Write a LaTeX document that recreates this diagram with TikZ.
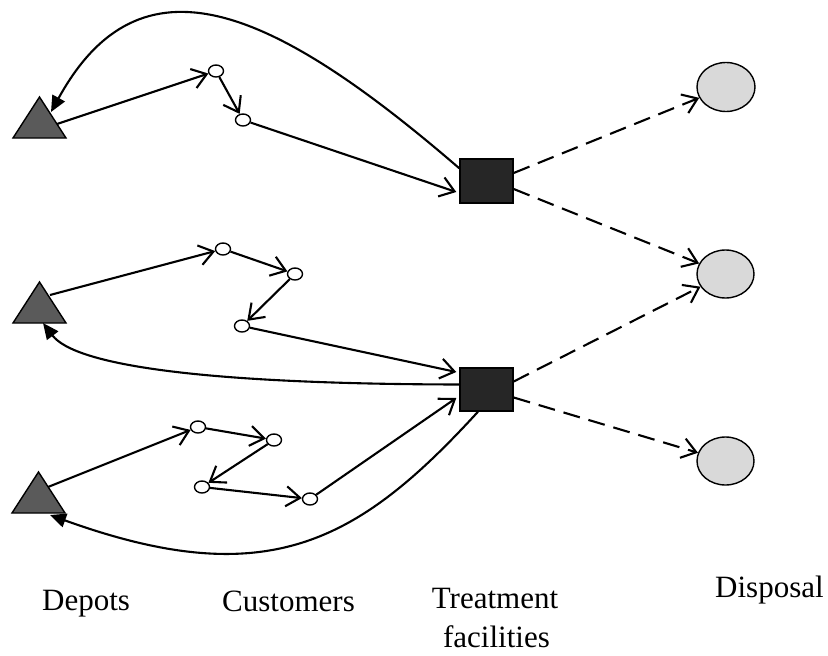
\documentclass[tikz,border=0pt]{standalone}
\usepackage{fontspec}
\setmainfont{Liberation Serif}
\usetikzlibrary{arrows.meta,shapes.geometric,calc}
\definecolor{trigray}{HTML}{5A5A5A}
\definecolor{sqgray}{HTML}{262626}
\definecolor{dispgray}{HTML}{D9D9D9}
\tikzset{
  cust/.style={draw, fill=white, ellipse, line width=1.4pt, minimum width=15pt, minimum height=12pt, inner sep=0pt},
  facility/.style={draw, fill=sqgray, line width=1.4pt, minimum width=53pt, minimum height=44pt, inner sep=0pt},
  disp/.style={draw, fill=dispgray, ellipse, line width=1.4pt, minimum width=58pt, minimum height=49pt, inner sep=0pt},
  tri/.style={draw, fill=trigray, line width=1.4pt, line join=miter},
  con/.style={line width=2.1pt, -{Straight Barb[length=14pt,width=20pt,line width=2.1pt]}},
  ret/.style={line width=2.1pt, -{Triangle[length=16pt,width=14pt]}},
  dsh/.style={line width=2.1pt, dash pattern=on 17pt off 9pt, -{Straight Barb[length=14pt,width=20pt,line width=2.1pt]}},
  lbl/.style={font=\fontsize{31}{39}\selectfont, inner sep=0pt}
}
\begin{document}
\begin{tikzpicture}[x=1pt,y=-1pt]
\useasboundingbox (0,0) rectangle (828,656);
% depots
\draw[tri] (13,138) -- (39.5,97) -- (66,138) -- cycle;
\draw[tri] (13,323) -- (39.5,282) -- (66,323) -- cycle;
\draw[tri] (12,513) -- (38.5,472) -- (65,513) -- cycle;
\coordinate (t1r) at (57,124);
\coordinate (t1a) at (51,112);
\coordinate (t2r) at (50,295);
\coordinate (t2b) at (43,323);
\coordinate (t3r) at (48,487);
\coordinate (t3b) at (50,515);
% customers
\node[cust] (c1a) at (216,71) {};
\node[cust] (c1b) at (243,120) {};
\node[cust] (c2a) at (223,249) {};
\node[cust] (c2b) at (295,274) {};
\node[cust] (c2c) at (242,326) {};
\node[cust] (c3a) at (198,427) {};
\node[cust] (c3b) at (274,440) {};
\node[cust] (c3c) at (202,487) {};
\node[cust] (c3d) at (310,499) {};
% treatment facilities
\node[facility] (sq1) at (486.5,181) {};
\node[facility, minimum height=43pt] (sq2) at (486.5,389.5) {};
% disposal
\node[disp] (d1) at (726,87) {};
\node[disp, minimum width=57pt, minimum height=48pt] (d2) at (725.5,274) {};
\node[disp, minimum width=57pt, minimum height=48pt] (d3) at (725.5,461) {};
% top route
\draw[con] (t1r) -- (c1a);
\draw[con] (c1a) -- (c1b);
\draw[con] (c1b) -- ($(sq1.west)+(-3,11)$);
\draw[ret] ($(sq1.north west)+(0,10)$) .. controls (270,5) and (140,-50) .. (t1a);
% middle route
\draw[con] (t2r) -- (c2a);
\draw[con] (c2a) -- (c2b);
\draw[con] (c2b) -- (c2c);
\draw[con] (c2c) -- ($(sq2.west)+(-3,-17.5)$);
\draw[ret] ($(sq2.west)+(0,-5)$) .. controls (200,384) and (75,365) .. (t2b);
% bottom route
\draw[con] (t3r) -- (c3a);
\draw[con] (c3a) -- (c3b);
\draw[con] (c3b) -- (c3c);
\draw[con] (c3c) -- (c3d);
\draw[con] (c3d) -- ($(sq2.west)+(-3,8.5)$);
\draw[ret] ($(sq2.south)+(-8.5,0)$) .. controls (357,544) and (266,593) .. (t3b);
% dashed to disposal
\draw[dsh] ($(sq1.east)+(0,-8)$) -- (d1);
\draw[dsh] ($(sq1.east)+(0,8)$) -- (d2);
\draw[dsh] ($(sq2.east)+(0,-8)$) -- (d2);
\draw[dsh] ($(sq2.east)+(0,8)$) -- (d3);
% labels
\node[lbl, anchor=base west] (ldep) at (42,610) {Depots};
\node[lbl, anchor=base west] (lcus) at (222,611) {Customers};
\node[lbl, anchor=base] (ltre) at (495,608) {Treatment};
\node[lbl, anchor=base] (lfac) at (496.5,647) {facilities};
\node[lbl, anchor=base west] (ldis) at (715,597) {Disposal};
\end{tikzpicture}
\end{document}
